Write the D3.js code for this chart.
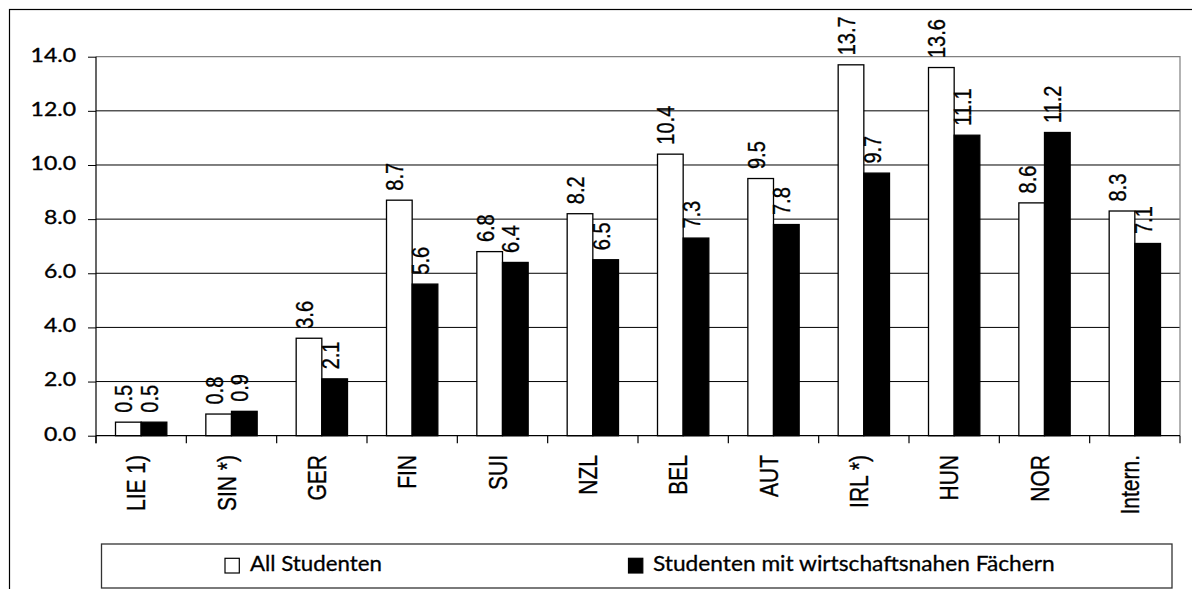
<!DOCTYPE html>
<html>
<head>
<meta charset="utf-8">
<script src="https://cdn.jsdelivr.net/npm/d3@7"></script>
<style>
  html, body { margin: 0; padding: 0; background: #fff; }
  svg { display: block; }
</style>
</head>
<body>
<svg id="chart" width="1192" height="589"></svg>
<script>
// ---- data ----
const categories = ["LIE 1)", "SIN *)", "GER", "FIN", "SUI", "NZL", "BEL", "AUT", "IRL *)", "HUN", "NOR", "Intern."];
const seriesNames = ["All Studenten", "Studenten mit wirtschaftsnahen Fächern"];
const allStudenten = [0.5, 0.8, 3.6, 8.7, 6.8, 8.2, 10.4, 9.5, 13.7, 13.6, 8.6, 8.3];
const wirtschaft   = [0.5, 0.9, 2.1, 5.6, 6.4, 6.5, 7.3, 7.8, 9.7, 11.1, 11.2, 7.1];
const yTicks = [0, 2, 4, 6, 8, 10, 12, 14];

// ---- layout ----
const svg = d3.select("#chart");
const plot = { left: 96, right: 1180, top: 56.7, bottom: 435.7 };
const gillFont = "Lato, 'Open Sans', sans-serif";
const arialFont = "'Liberation Sans', Arial, sans-serif";
const stretch = 1.2;

const x = d3.scaleBand().domain(categories).range([plot.left, plot.right]).paddingInner(0).paddingOuter(0);
const xs = d3.scaleBand().domain([0, 1]).range([0, x.bandwidth()]).paddingInner(0).paddingOuter(0.76);
const y = d3.scaleLinear().domain([0, 14]).range([plot.bottom, plot.top]);
const fills = ["#ffffff", "#000000"];

// outer frame
svg.append("rect").attr("x", 9.5).attr("y", 9.5).attr("width", 1300).attr("height", 700)
  .attr("fill", "none").attr("stroke", "#000").attr("stroke-width", 1.2);

// gridlines
svg.append("g").selectAll("line").data(yTicks.filter(d => d > 0 && d < 14)).join("line")
  .attr("x1", plot.left).attr("x2", plot.right)
  .attr("y1", d => y(d)).attr("y2", d => y(d))
  .attr("stroke", "#000").attr("stroke-width", 1);

// plot border top and right (gray)
svg.append("path")
  .attr("d", `M${plot.left},${y(14)}H${plot.right}V${plot.bottom}`)
  .attr("fill", "none").attr("stroke", "#808080").attr("stroke-width", 1.2);

// bars
const seriesData = [allStudenten, wirtschaft];
const bars = svg.append("g");
seriesData.forEach((vals, si) => {
  bars.selectAll(null).data(vals).join("rect")
    .attr("x", (d, i) => x(categories[i]) + xs(si))
    .attr("y", d => y(d))
    .attr("width", xs.bandwidth())
    .attr("height", d => y(0) - y(d))
    .attr("fill", fills[si])
    .attr("stroke", "#000").attr("stroke-width", 1.3);
});

// value labels
const valFs = 20;
seriesData.forEach((vals, si) => {
  svg.append("g").selectAll("text").data(vals).join("text")
    .attr("transform", (d, i) => {
      const bx = x(categories[i]) + xs(si) + 0.716 * valFs * stretch - 0.5;
      const by = y(d) - 9.5;
      return `translate(${bx},${by}) scale(${stretch},1) rotate(-90)`;
    })
    .attr("text-anchor", "start")
    .style("font-family", arialFont).style("font-size", valFs + "px")
    .attr("fill", "#000").attr("stroke", "#000").attr("stroke-width", 0.3)
    .text(d => d.toFixed(1));
});

// y axis
const yAxis = d3.axisLeft(y).tickValues(yTicks).tickFormat(d3.format(".1f")).tickSize(8).tickSizeOuter(0);
const gy = svg.append("g").attr("transform", `translate(${plot.left},0)`).call(yAxis);
gy.select(".domain").remove();
gy.selectAll(".tick line").attr("stroke", "#000");
gy.selectAll(".tick text")
  .attr("x", null).attr("dy", null)
  .attr("transform", `translate(-20,4.3) scale(1.15,1)`)
  .attr("text-anchor", "end")
  .style("font-family", gillFont).style("font-size", "20px")
  .attr("fill", "#000").attr("stroke", "#000").attr("stroke-width", 0.35);
svg.append("line").attr("x1", plot.left).attr("x2", plot.left).attr("y1", plot.top).attr("y2", plot.bottom + 7.5)
  .attr("stroke", "#000").attr("stroke-width", 1.2);

// x axis
svg.append("line").attr("x1", plot.left).attr("x2", plot.right).attr("y1", plot.bottom).attr("y2", plot.bottom)
  .attr("stroke", "#000").attr("stroke-width", 1.2);
const boundaries = categories.map(c => x(c)).concat([plot.right]);
svg.append("g").selectAll("line").data(boundaries).join("line")
  .attr("x1", d => d).attr("x2", d => d).attr("y1", plot.bottom).attr("y2", plot.bottom + 7.5)
  .attr("stroke", "#000").attr("stroke-width", 1.2);
svg.append("g").selectAll("text").data(categories).join("text")
  .attr("transform", d => `translate(${x(d) + x.bandwidth() / 2 + 4},455) scale(${stretch},1) rotate(-90)`)
  .attr("text-anchor", "end")
  .style("font-family", arialFont).style("font-size", "21px")
  .attr("fill", "#000").attr("stroke", "#000").attr("stroke-width", 0.3)
  .text(d => d);

// legend
const leg = svg.append("g");
leg.append("rect").attr("x", 101.5).attr("y", 544).attr("width", 1070.5).attr("height", 44)
  .attr("fill", "#fff").attr("stroke", "#333").attr("stroke-width", 1.3);
const legItems = [
  { sx: 225, tx: 250, tw: 132 },
  { sx: 628.5, tx: 653, tw: 402 }
];
legItems.forEach((it, i) => {
  leg.append("rect").attr("x", it.sx).attr("y", 558.3).attr("width", 14.3).attr("height", 14.7)
    .attr("fill", fills[i]).attr("stroke", "#000").attr("stroke-width", 1.2);
  const t = leg.append("text")
    .style("font-family", gillFont).style("font-size", "21.5px")
    .attr("fill", "#000").attr("stroke", "#000").attr("stroke-width", 0.3)
    .text(seriesNames[i]);
  const w = t.node().getComputedTextLength();
  t.attr("transform", `translate(${it.tx},570.7) scale(${it.tw / w},1)`);
});
</script>
</body>
</html>
